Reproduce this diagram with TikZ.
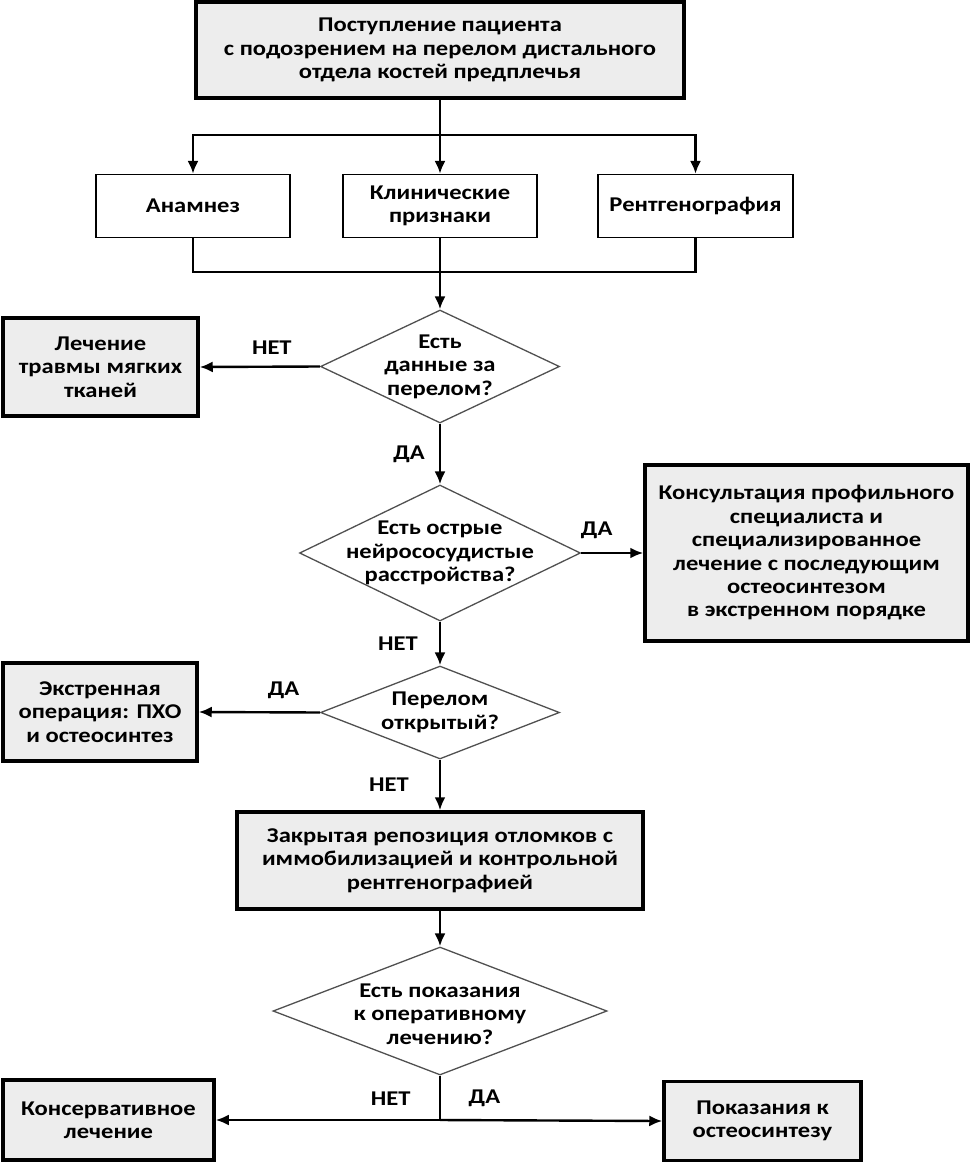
\documentclass[tikz,border=0pt]{standalone}
\usepackage{fontspec}
\setmainfont{Carlito}[FakeStretch=1.17]
\usetikzlibrary{arrows.meta, calc, math}
\usetikzlibrary{shapes.geometric}
\definecolor{boxgray}{RGB}{237,237,237}
\definecolor{rimgray}{RGB}{80,80,80}

\begin{document}
\begin{tikzpicture}[x=1pt, y=-1pt,
  font=\bfseries\fontsize{21}{23.4}\selectfont,
  bigbox/.style={draw, line width=3.5pt, fill=boxgray, align=center, inner sep=0pt},
  smallbox/.style={draw, line width=1.3pt, fill=white, align=center, inner sep=0pt},
  decision/.style={diamond, draw=rimgray, line width=1.3pt, inner sep=0pt},
  qtext/.style={align=center, inner sep=0pt},
  answer/.style={inner sep=0pt},
  link/.style={line width=2.4pt},
  flow/.style={line width=2.4pt, -{Latex[length=13pt, width=11pt]}}]
\tikzmath{
\cx=440;
}
\useasboundingbox (0,0) rectangle (974,1166);

%start and the three checks
\node[bigbox, minimum width=488pt, minimum height=96pt] (start) at (\cx,50)
  {Поступление пациента\\с подозрением на перелом дистального\\отдела костей предплечья};
\node[smallbox, minimum width=194pt, minimum height=63pt] (anam) at (193,206) {Анамнез};
\node[smallbox, minimum width=194pt, minimum height=63pt] (klin) at (\cx,206) {Клинические\\признаки};
\node[smallbox, minimum width=195pt, minimum height=63pt] (rentg) at (695.5,206) {Рентгенография};

\coordinate (split) at (\cx,135);
\coordinate (merge) at (\cx,272);
\draw[link] (start.south) -- (split);
\draw[flow] (split) -| (anam.north);
\draw[flow] (split) -| (rentg.north);
\draw[flow] (split) -- (klin.north);
\draw[link] (anam.south) |- (merge) -| (rentg.south);
\draw[link] (klin.south) -- (merge);

%first question
\node[decision, minimum width=239pt, minimum height=113pt] (q1) at (\cx,366.5) {};
\node[qtext] (q1t) at (q1) {Есть\\данные за\\перелом?};
\node[bigbox, minimum width=195pt, minimum height=98pt] (soft) at (100.5,367)
  {Лечение\\травмы мягких\\тканей};
\draw[flow] (merge) -- (q1.north);
\draw[flow] (q1.west) -- node[answer, above=11pt, pos=0.4] (q1no) {НЕТ} (soft.east);

%second question
\node[decision, minimum width=281pt, minimum height=136pt] (q2) at (\cx,553) {};
\node[qtext] (q2t) at (q2) {Есть острые\\нейрососудистые\\расстройства?};
\node[bigbox, minimum width=323pt, minimum height=176pt] (consult) at (806.5,553)
  {Консультация профильного\\специалиста и\\специализированное\\лечение с последующим\\остеосинтезом\\в экстренном порядке};
\draw[flow] (q1.south) -- node[answer, left=14pt] (q1yes) {ДА} (q2.north);
\draw[flow] (q2.east) -- node[answer, above=13pt, pos=0.25] (q2yes) {ДА} (consult.west);

%third question
\node[decision, minimum width=239pt, minimum height=93pt] (q3) at (\cx,712.5) {};
\node[qtext] (q3t) at (q3) {Перелом\\открытый?};
\node[bigbox, minimum width=194pt, minimum height=98pt] (urgent) at (100,712)
  {Экстренная\\операция: ПХО\\и остеосинтез};
\draw[flow] (q2.south) -- node[answer, left=21pt] (q2no) {НЕТ} (q3.north);
\draw[flow] (q3.west) -- node[answer, above=12pt, pos=0.3] (q3yes) {ДА} (urgent.east);

%closed reduction
\node[bigbox, minimum width=406pt, minimum height=97pt] (closed) at (\cx,860.5)
  {Закрытая репозиция отломков с\\иммобилизацией и контрольной\\рентгенографией};
\draw[flow] (q3.south) -- node[answer, left=30pt] (q3no) {НЕТ} (closed.north);

%last question
\node[decision, minimum width=334pt, minimum height=128pt] (q4) at (\cx,1011) {};
\node[qtext] (q4t) at ($(q4)+(0,3)$) {Есть показания\\к оперативному\\лечению?};
\node[bigbox, minimum width=211pt, minimum height=80pt] (conserv) at (108.5,1120)
  {Консервативное\\лечение};
\node[bigbox, minimum width=197pt, minimum height=79pt] (surgery) at (762.5,1121)
  {Показания к\\остеосинтезу};
\draw[flow] (closed.south) -- (q4.north);

\coordinate (fork) at (\cx,1120);
\draw[link] (q4.south) -- (fork);
\draw[flow] (fork) -- node[answer, above=13pt, pos=0.22] (q4no) {НЕТ} (conserv.east);
\draw[flow] (fork) -- node[answer, above=12pt, pos=0.2] (q4yes) {ДА} (surgery.west);
\end{tikzpicture}
\end{document}
